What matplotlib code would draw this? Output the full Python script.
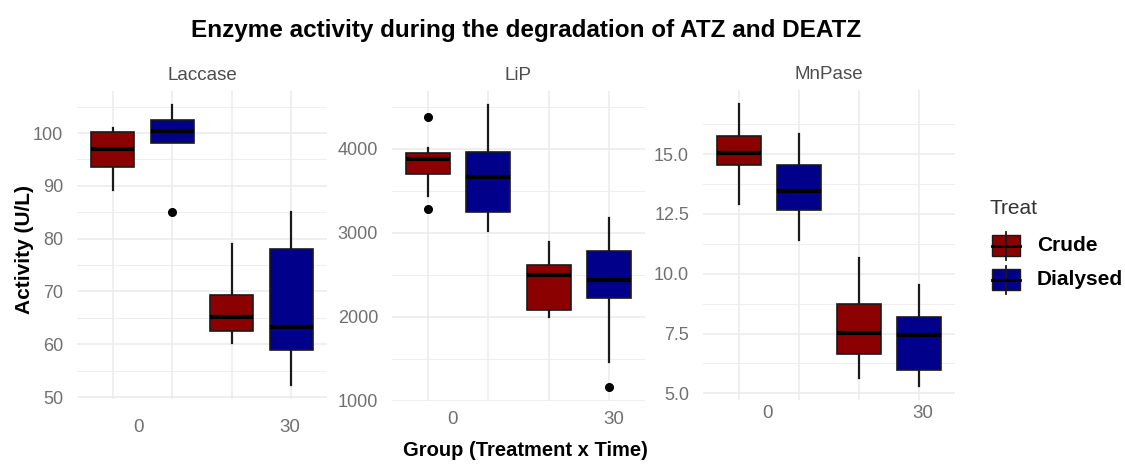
import numpy as np
import matplotlib
matplotlib.use('Agg')
import matplotlib.pyplot as plt
from matplotlib.patches import Rectangle
from matplotlib.lines import Line2D

plt.rcParams['font.family'] = ['Liberation Sans', 'DejaVu Sans']

# Groups on the x axis: treatment x time
groups = ["Crude 0", "Dialysed 0", "Crude 30", "Dialysed 30"]
treat_names = ["Crude", "Dialysed"]
treat_colors = ["#8B0000", "#00008B"]
time_labels = ["0", "30"]

# Box summaries (lower whisker, Q1, median, Q3, upper whisker, outliers)
laccase_lo = [89.2, 98.1, 60.2, 52.3]
laccase_q1 = [93.5, 98.1, 62.6, 58.9]
laccase_med = [97.0, 100.3, 65.2, 63.2]
laccase_q3 = [100.2, 102.5, 69.4, 78.1]
laccase_hi = [101.0, 105.3, 79.0, 85.1]
laccase_out = [[], [85.0], [], []]

lip_lo = [3445, 3020, 2000, 1463]
lip_q1 = [3703, 3246, 2077, 2224]
lip_med = [3881, 3662, 2494, 2442]
lip_q3 = [3948, 3968, 2612, 2779]
lip_hi = [4012, 4523, 2890, 3180]
lip_out = [[4384, 3287], [], [], [1165]]

mnp_lo = [12.92, 11.41, 5.63, 5.31]
mnp_q1 = [14.54, 12.67, 6.64, 5.98]
mnp_med = [15.04, 13.44, 7.51, 7.44]
mnp_q3 = [15.77, 14.55, 8.74, 8.18]
mnp_hi = [17.09, 15.85, 10.65, 9.53]
mnp_out = [[], [], [], []]

panels = [
    dict(name="Laccase", lo=laccase_lo, q1=laccase_q1, med=laccase_med, q3=laccase_q3,
         hi=laccase_hi, out=laccase_out, yticks=[50, 60, 70, 80, 90, 100], fmt="{:.0f}",
         rect=[77, 91, 327, 399], ylim=(49.65, 107.95), tick_x=[1.43, 3.97], tick_dy=29),
    dict(name="LiP", lo=lip_lo, q1=lip_q1, med=lip_med, q3=lip_q3,
         hi=lip_hi, out=lip_out, yticks=[1000, 2000, 3000, 4000], fmt="{:.0f}",
         rect=[392, 91, 645, 401], ylim=(997, 4691), tick_x=[1.40, 4.08], tick_dy=19),
    dict(name="MnPase", lo=mnp_lo, q1=mnp_q1, med=mnp_med, q3=mnp_q3,
         hi=mnp_hi, out=mnp_out, yticks=[5.0, 7.5, 10.0, 12.5, 15.0], fmt="{:.1f}",
         rect=[703, 90, 955, 400], ylim=(4.72, 17.68), tick_x=[1.48, 4.07], tick_dy=13),
]

W, H = 1125, 471
fig = plt.figure(figsize=(W / 100, H / 100), dpi=100)
grid_col = "#ebebeb"
tick_col = "#707070"

for p in panels:
    l, t, r, b = p["rect"]
    ax = fig.add_axes([l / W, 1 - b / H, (r - l) / W, (b - t) / H])
    stats = []
    for i in range(len(groups)):
        stats.append(dict(whislo=p["lo"][i], q1=p["q1"][i], med=p["med"][i],
                          q3=p["q3"][i], whishi=p["hi"][i], fliers=p["out"][i],
                          label=groups[i]))
    pos = np.arange(1, len(groups) + 1)
    bp = ax.bxp(stats, positions=pos, widths=0.73, patch_artist=True, showcaps=False,
                boxprops=dict(edgecolor="#1a1a1a", linewidth=1.2),
                whiskerprops=dict(color="#1a1a1a", linewidth=1.6),
                medianprops=dict(color="black", linewidth=3.0),
                flierprops=dict(marker="o", markerfacecolor="black",
                                markeredgecolor="black", markersize=5.5))
    for i, box in enumerate(bp["boxes"]):
        box.set_facecolor(treat_colors[i % 2])
        box.set_zorder(3)
    for k in ("whiskers", "medians", "fliers"):
        for a in bp[k]:
            a.set_zorder(4 if k != "whiskers" else 2)

    ax.set_xticks(pos)
    ax.set_xticklabels([])
    ax.set_yticks(p["yticks"])
    ax.set_yticklabels([p["fmt"].format(v) for v in p["yticks"]])
    yt = np.array(p["yticks"], dtype=float)
    step = yt[1] - yt[0]
    ax.set_yticks(np.arange(yt[0] - step / 2, yt[-1] + step, step), minor=True)
    # limits last, since setting ticks can widen the view
    ax.set_xlim(0.4, 4.6)
    ax.set_ylim(*p["ylim"])
    ax.grid(True, which="major", color=grid_col, linewidth=1.1, zorder=0)
    ax.grid(True, which="minor", axis="y", color=grid_col, linewidth=0.6, zorder=0)
    ax.tick_params(axis="both", which="both", length=0)
    ax.tick_params(axis="y", labelsize=13, labelcolor=tick_col, pad=10)
    for s in ax.spines.values():
        s.set_visible(False)
    ax.set_axisbelow(True)

    for x, lab in zip(p["tick_x"], time_labels):
        ax.annotate(lab, xy=(x, 0), xycoords=("data", "axes fraction"),
                    xytext=(0, -p["tick_dy"]), textcoords="offset pixels",
                    ha="center", va="center", fontsize=13.5, color=tick_col)
    ax.text(0.5, 1 + 16 / (b - t), p["name"], transform=ax.transAxes,
            ha="center", va="center", fontsize=13.5, color="#4d4d4d")

fig.text(526 / W, 1 - 31 / H, "Enzyme activity during the degradation of ATZ and DEATZ",
         ha="center", va="center", fontsize=17.5, fontweight="bold")
fig.text(525 / W, 1 - 451 / H, "Group (Treatment x Time)", ha="center", va="center",
         fontsize=14.5, fontweight="bold")
fig.text(24 / W, 1 - 250 / H, "Activity (U/L)", ha="center", va="center",
         rotation=90, fontsize=15, fontweight="bold")

# Legend drawn as small box glyphs
fig.text(989 / W, 1 - 208 / H, "Treat", ha="left", va="center", fontsize=15, color="#333333")
for name, col, yc in zip(treat_names, treat_colors, [245.5, 279.5]):
    kx0, kx1, kh = 992, 1020, 21
    fig.add_artist(Line2D([(kx0 + kx1) / 2 / W] * 2, [1 - (yc - 14) / H, 1 - (yc + 14) / H],
                          color="#1a1a1a", linewidth=1.3))
    fig.add_artist(Rectangle((kx0 / W, 1 - (yc + kh / 2) / H), (kx1 - kx0) / W, kh / H,
                             facecolor=col, edgecolor="#1a1a1a", linewidth=1.0))
    fig.add_artist(Line2D([kx0 / W, kx1 / W], [1 - yc / H] * 2, color="black", linewidth=2.0))
    fig.text(1037 / W, 1 - yc / H, name, ha="left", va="center", fontsize=15, fontweight="bold")

fig.savefig("out.png", dpi=100, facecolor="white")
